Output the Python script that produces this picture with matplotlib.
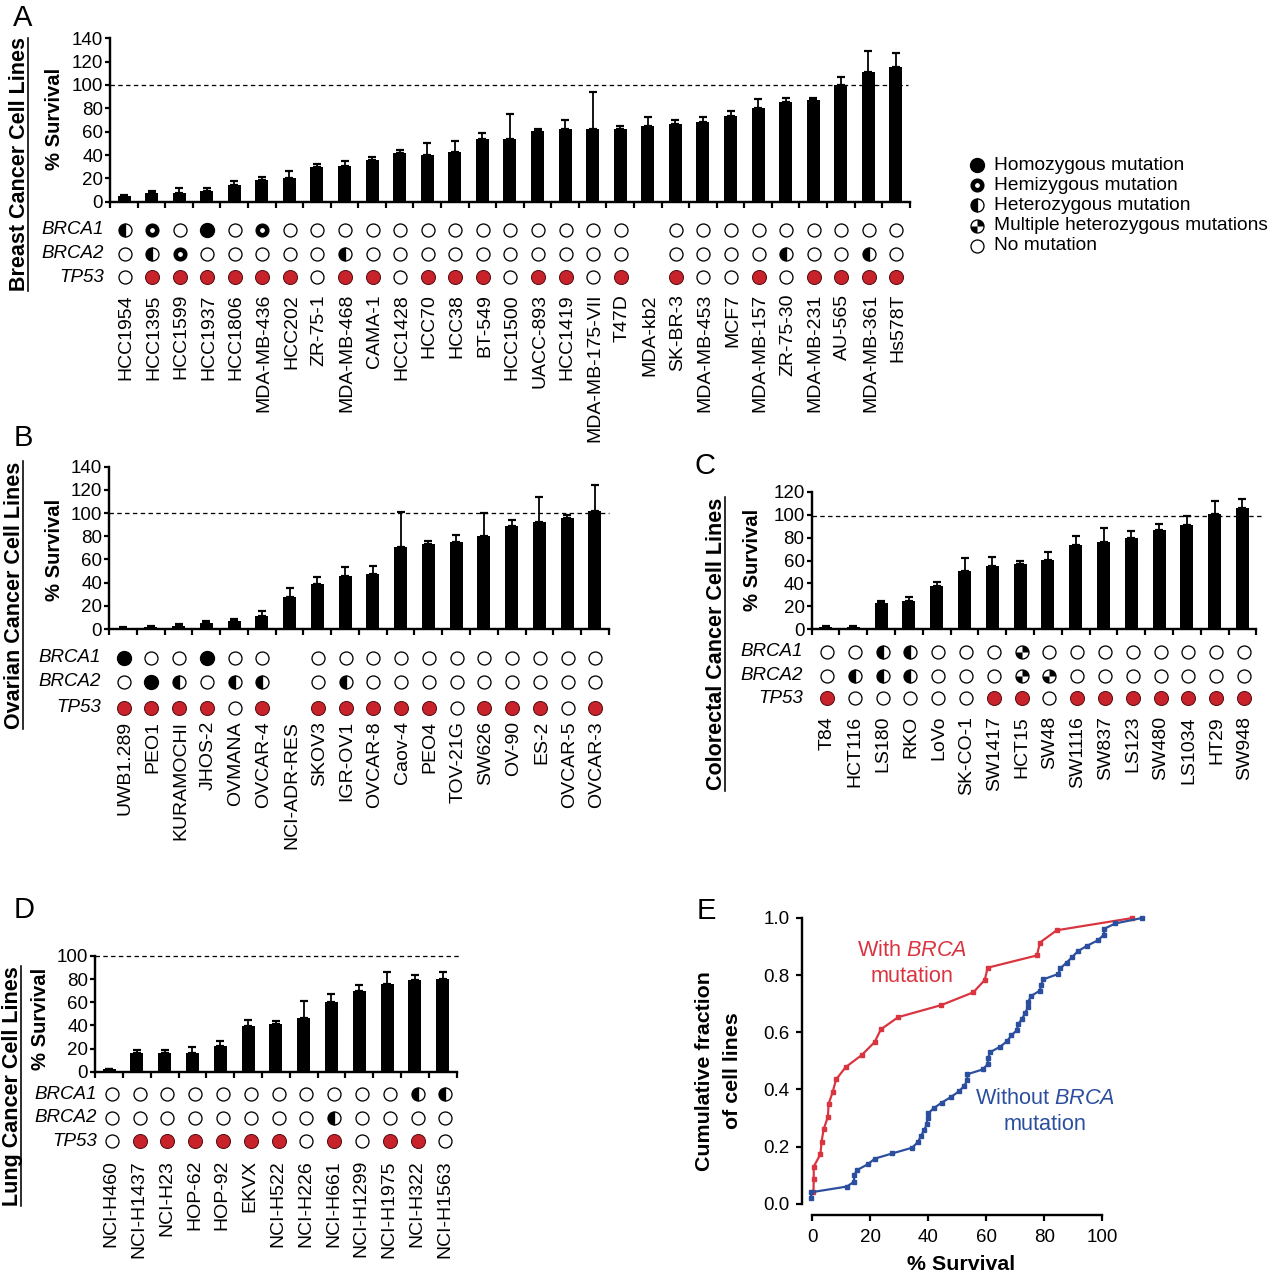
import matplotlib
matplotlib.use("Agg")
import matplotlib.pyplot as plt
from matplotlib.path import Path
from matplotlib.markers import MarkerStyle
from matplotlib.transforms import ScaledTranslation

plt.rcParams['font.family'] = ['Liberation Sans', 'DejaVu Sans']
plt.rcParams['mathtext.fontset'] = 'custom'
plt.rcParams['mathtext.rm'] = 'Liberation Sans'
plt.rcParams['mathtext.it'] = 'Liberation Sans:italic'
plt.rcParams['mathtext.bf'] = 'Liberation Sans:bold'

W, H = 1268, 1280
PX = 0.72  # points per pixel at dpi 100

# ---------------- data ----------------
# status codes: N none, H homozygous, M hemizygous, E heterozygous,
# X multiple heterozygous, R red (TP53 mutated), '-' not shown
a_lines = ['HCC1954','HCC1395','HCC1599','HCC1937','HCC1806','MDA-MB-436','HCC202','ZR-75-1','MDA-MB-468','CAMA-1',
           'HCC1428','HCC70','HCC38','BT-549','HCC1500','UACC-893','HCC1419','MDA-MB-175-VII','T47D','MDA-kb2',
           'SK-BR-3','MDA-MB-453','MCF7','MDA-MB-157','ZR-75-30','MDA-MB-231','AU-565','MDA-MB-361','Hs578T']
a_vals = [4.5,7.7,7.7,9,14,18.5,20,29.5,31,35.5,41.7,40,43,54,54,60.5,62,62,62,65,66.6,68,73,80.6,85,87,100,111.5,115]
a_tops = [6,9,11.5,12,18,21.5,26,32.5,35,38,44,50.3,52,59,75.5,62.5,70,94,65,72.5,70,72.5,78,87.7,89,89,107,129.5,127.5]
a_brca1 = 'EMNHNMNNNNNNNNNNNNN-NNNNNNNNN'
a_brca2 = 'NEMNNNNNENNNNNNNNNN-NNNNENNEN'
a_tp53  = 'NRRRRRRNRRNRRRNRRNR-RNNRNRRRR'

b_lines = ['UWB1.289','PEO1','KURAMOCHI','JHOS-2','OVMANA','OVCAR-4','NCI-ADR-RES','SKOV3','IGR-OV1','OVCAR-8',
           'Caov-4','PEO4','TOV-21G','SW626','OV-90','ES-2','OVCAR-5','OVCAR-3']
b_vals = [1,1.5,3,5,6.5,11,28,39,45.5,47.5,70.5,73.5,75,80,89,92,95.5,101.5]
b_tops = [1.7,3,4.5,6.5,8.5,15.5,35,45,53.5,54,101,76,81,100,94,114,98.5,124]
b_brca1 = 'HNNHNN-NNNNNNNNNNN'
b_brca2 = 'NHENEE-NENNNNNNNNN'
b_tp53  = 'RRRRNR-RRRRRNRRRNR'

c_lines = ['T84','HCT116','LS180','RKO','LoVo','SK-CO-1','SW1417','HCT15','SW48','SW1116','SW837','LS123','SW480',
           'LS1034','HT29','SW948']
c_vals = [2,2,22.7,24.4,38,51,55,56.7,60.7,73.8,76,80,87,91,100.6,106]
c_tops = [2.5,2.5,24.7,28,41,62.5,63,59.6,67,81,88,86,92,99,112,114]
c_brca1 = 'NNEENNNXNNNNNNNN'
c_brca2 = 'NEEENNNXXNNNNNNN'
c_tp53  = 'RNNNNNRRNRRRRRRR'

d_lines = ['NCI-H460','NCI-H1437','NCI-H23','HOP-62','HOP-92','EKVX','NCI-H522','NCI-H226','NCI-H661','NCI-H1299',
           'NCI-H1975','NCI-H322','NCI-H1563']
d_vals = [2,16,16,16,22.5,39.8,41,46,60,70,76,79,80.4]
d_tops = [2.5,18.7,18.7,21,26.5,44.7,44,61,67.5,74.6,86.5,83.6,86.5]
d_brca1 = 'NNNNNNNNNNNEE'
d_brca2 = 'NNNNNNNNENNNN'
d_tp53  = 'NRRRRRRNRNRRN'

e_red_x = [0.5,0.6,0.6,2.9,3.3,4,5.5,5.7,7.1,8.3,11.6,17.1,21.6,23.7,29.7,44.5,55.6,59.5,60.5,77.5,78.5,84.3,110.4]
e_red_y = [.04,.0875,.13,.173,.217,.26,.305,.349,.39,.435,.478,.52,.566,.61,.653,.695,.74,.783,.826,.869,.914,.957,1.0]
e_blue_x = [-.3,-.3,12,14.5,14.5,15.6,19.2,21.7,27.7,34.5,36.6,37.5,38.7,39.5,39.8,40,41.9,44.7,47.8,50.6,52.5,53.5,
            53.5,58.8,60.6,60.7,61.3,64.9,67.2,68.7,70.6,71,72.4,73.5,74.5,74.5,75.5,78.5,78.9,79.6,84.8,85.6,87.7,
            89.6,91.5,94.6,98.5,100.6,100.6,104.5,113.7]
e_blue_y = [.019,.04,.06,.077,.1,.118,.138,.158,.176,.196,.217,.237,.258,.278,.299,.316,.334,.354,.373,.393,.413,.433,
            .453,.47,.489,.509,.53,.55,.569,.589,.608,.628,.648,.669,.69,.707,.727,.746,.765,.785,.804,.824,.844,.863,
            .883,.902,.922,.942,.962,.981,1.0]

legend_codes = ['H','M','E','X','N']
legend_labels = ['Homozygous mutation','Hemizygous mutation','Heterozygous mutation',
                 'Multiple heterozygous mutations','No mutation']
gene_names = ['BRCA1','BRCA2','TP53']

# ---------------- helpers ----------------
fig = plt.figure(figsize=(W/100, H/100), dpi=100, facecolor='white')

def box(l, t, r, b, **kw):
    return fig.add_axes([l/W, 1-b/H, (r-l)/W, (b-t)/H], **kw)

over = box(0, 0, W, H)
over.set_xlim(0, W); over.set_ylim(H, 0); over.axis('off')

RED = '#C8232B'
BLUE_L = '#2B4F9E'
RED_L = '#D9343F'
quarters = Path.make_compound_path(Path.wedge(0, 90), Path.wedge(180, 270))
MS = 13*PX

def draw_status(ax, x, y, code):
    kw = dict(linestyle='none', clip_on=False, zorder=3)
    edge = 1.3*PX
    if code == 'N':
        ax.plot([x],[y], marker='o', ms=MS, mfc='white', mec='black', mew=edge, **kw)
    elif code == 'H':
        ax.plot([x],[y], marker='o', ms=MS+1*PX, mfc='black', mec='black', mew=edge, **kw)
    elif code == 'M':
        ax.plot([x],[y], marker='o', ms=9.5*PX, mfc='white', mec='black', mew=4.6*PX, **kw)
    elif code == 'E':
        ax.plot([x],[y], marker='o', ms=MS, fillstyle='left', mfc='black', mfcalt='white', mec='black', mew=edge, **kw)
    elif code == 'X':
        ax.plot([x],[y], marker='o', ms=MS, mfc='white', mec='black', mew=edge, **kw)
        ax.plot([x],[y], marker=MarkerStyle(quarters), ms=MS, mfc='black', mec='none', mew=0, **kw)
    elif code == 'R':
        ax.plot([x],[y], marker='o', ms=MS+1*PX, mfc=RED, mec='#5a1015', mew=edge*0.8, **kw)

def bar_panel(lines, vals, tops, genes, ymax, yticks, ref, L, x0, dx, top, y0, dash_end, label_top,
              row_ys, row_right, dot_shift, ylab_xy, title_x, under_x, title_y, title_span, letter, letter_xy):
    n = len(lines)
    left = x0 - 0.5*dx
    right = left + n*dx
    ax = box(left, top, right, y0)
    x = list(range(n))
    ax.bar(x, vals, width=13/dx, color='black', zorder=2)
    up = [t-v for t, v in zip(tops, vals)]
    ax.errorbar(x, vals, yerr=[[0]*n, up], fmt='none', ecolor='black', elinewidth=1.8*PX,
                capsize=4*PX, capthick=2.2*PX, zorder=2, clip_on=False)
    ax.set_xlim(-0.5, n-0.5)
    ax.set_ylim(0, ymax)
    xe = -0.5 + (dash_end-left)/dx
    ax.plot([-0.5, xe], [ref, ref], color='black', lw=1.3*PX, ls=(0, (3.4, 2.6)), clip_on=False, zorder=1)
    for s in ('top', 'right'):
        ax.spines[s].set_visible(False)
    for s in ('left', 'bottom'):
        ax.spines[s].set_linewidth(2.4*PX)
    ax.set_yticks(yticks)
    ax.tick_params(axis='y', length=5*PX, width=2.2*PX, labelsize=13.5, pad=1.5)
    ax.set_xticks([i-0.5 for i in range(n+1)])
    ax.set_xticklabels([])
    ax.tick_params(axis='x', which='major', length=6*PX, width=2.2*PX, direction='out')
    ax.set_xticks(x, lines, minor=True, rotation=90, va='top', ha='center')
    ax.tick_params(axis='x', which='minor', length=0, labelsize=14, pad=(label_top-y0)*PX)
    shift = ScaledTranslation(2/100, 0, fig.dpi_scale_trans)
    for lab in ax.get_xticklabels(minor=True):
        lab.set_transform(lab.get_transform() + shift)
    ax.patch.set_alpha(0)

    dots = box(left+dot_shift, row_ys[0]-10, right+dot_shift, row_ys[2]+10)
    dots.set_xlim(-0.5, n-0.5)
    dots.set_ylim(row_ys[2]+10, row_ys[0]-10)
    dots.axis('off')
    for rowy, name, codes in zip(row_ys, gene_names, genes):
        for i, c in enumerate(codes):
            draw_status(dots, i, rowy, c)
        over.text(row_right, rowy, name, style='italic', fontsize=13.5, ha='right', va='center')

    over.text(ylab_xy[0], ylab_xy[1], '% Survival', rotation=90, fontweight='bold', fontsize=14.6,
              ha='center', va='center')
    over.text(title_x, title_y, L, rotation=90, fontweight='bold', fontsize=15.5, ha='center', va='center')
    over.plot([under_x, under_x], title_span, color='black', lw=1.6*PX)
    over.text(letter_xy[0], letter_xy[1], letter, fontsize=21, ha='left', va='center')

bar_panel(a_lines, a_vals, a_tops, [a_brca1, a_brca2, a_tp53], 140, range(0, 141, 20), 100,
          'Breast Cancer Cell Lines', 124, 27.57, 38.3, 201.7, 908, 294,
          (230, 254, 277), 104, 0.5, (54, 119), 19.5, 28, 164, (38, 291), 'A', (13, 18))
bar_panel(b_lines, b_vals, b_tops, [b_brca1, b_brca2, b_tp53], 140, range(0, 141, 20), 100,
          'Ovarian Cancer Cell Lines', 123, 27.76, 466.7, 629, 609, 721,
          (658, 681.7, 707.7), 101, 0.5, (54, 550), 14.5, 22.5, 595, (461, 729), 'B', (14, 438))
bar_panel(c_lines, c_vals, c_tops, [c_brca1, c_brca2, c_tp53], 120, range(0, 121, 20), 99,
          'Colorectal Cancer Cell Lines', 825.5, 27.8, 491.7, 629.3, 1263, 716,
          (652, 675.7, 698.3), 803, 1.5, (752, 560), 716.5, 724.5, 644, (497, 791), 'C', (695, 466))
bar_panel(d_lines, d_vals, d_tops, [d_brca1, d_brca2, d_tp53], 100, range(0, 101, 20), 100,
          'Lung Cancer Cell Lines', 109, 27.8, 956, 1071.7, 460, 1160,
          (1094.3, 1118, 1141), 97, 2.7, (40, 1019), 12.5, 21, 1086, (966, 1206), 'D', (14, 910))

# legend
leg = box(970, 155, 1268, 256)
leg.set_xlim(970, 1268)
leg.set_ylim(4.5, -0.5)
leg.axis('off')
for i, (c, t) in enumerate(zip(legend_codes, legend_labels)):
    draw_status(leg, 977, i, c)
    leg.text(994, i, t, fontsize=13.75, ha='left', va='center')

# panel E
e = box(802.3, 918, 1150, 1215)
e.set_xlim(-9.7/2.903, (1150-812)/2.903)
e.set_ylim(-11.3/285.7, 1)
e.plot(e_red_x, e_red_y, color=RED_L, lw=2.2*PX, marker='s', ms=4.5*PX, clip_on=False, zorder=2)
e.plot(e_blue_x, e_blue_y, color=BLUE_L, lw=2.2*PX, marker='s', ms=5*PX, clip_on=False, zorder=3)
for s in ('top', 'right'):
    e.spines[s].set_visible(False)
for s in ('left', 'bottom'):
    e.spines[s].set_linewidth(2.4*PX)
e.spines['left'].set_bounds(0, 1)
e.spines['bottom'].set_bounds(0, 100)
e.set_xticks(range(0, 101, 20))
e.set_yticks([0, .2, .4, .6, .8, 1.0])
e.set_yticklabels(['0.0', '0.2', '0.4', '0.6', '0.8', '1.0'])
e.tick_params(length=6*PX, width=2.2*PX, labelsize=13.5)
e.tick_params(axis='y', pad=5)
e.tick_params(axis='x', pad=6)
e.patch.set_alpha(0)
over.text(961, 1264, '% Survival', fontweight='bold', fontsize=15.4, ha='center', va='center')
over.text(705, 1071, 'Cumulative fraction', rotation=90, fontweight='bold', fontsize=15.4, ha='center', va='center')
over.text(732, 1071, 'of cell lines', rotation=90, fontweight='bold', fontsize=15.4, ha='center', va='center')
over.text(912, 951, r'With $\mathit{BRCA}$', color=RED_L, fontsize=15.6, ha='center', va='center')
over.text(912, 977, 'mutation', color=RED_L, fontsize=15.6, ha='center', va='center')
over.text(1045, 1098, r'Without $\mathit{BRCA}$', color=BLUE_L, fontsize=15.6, ha='center', va='center')
over.text(1045, 1124, 'mutation', color=BLUE_L, fontsize=15.6, ha='center', va='center')
over.text(697, 911, 'E', fontsize=21, ha='left', va='center')

fig.savefig('out.png', dpi=100, facecolor='white')
